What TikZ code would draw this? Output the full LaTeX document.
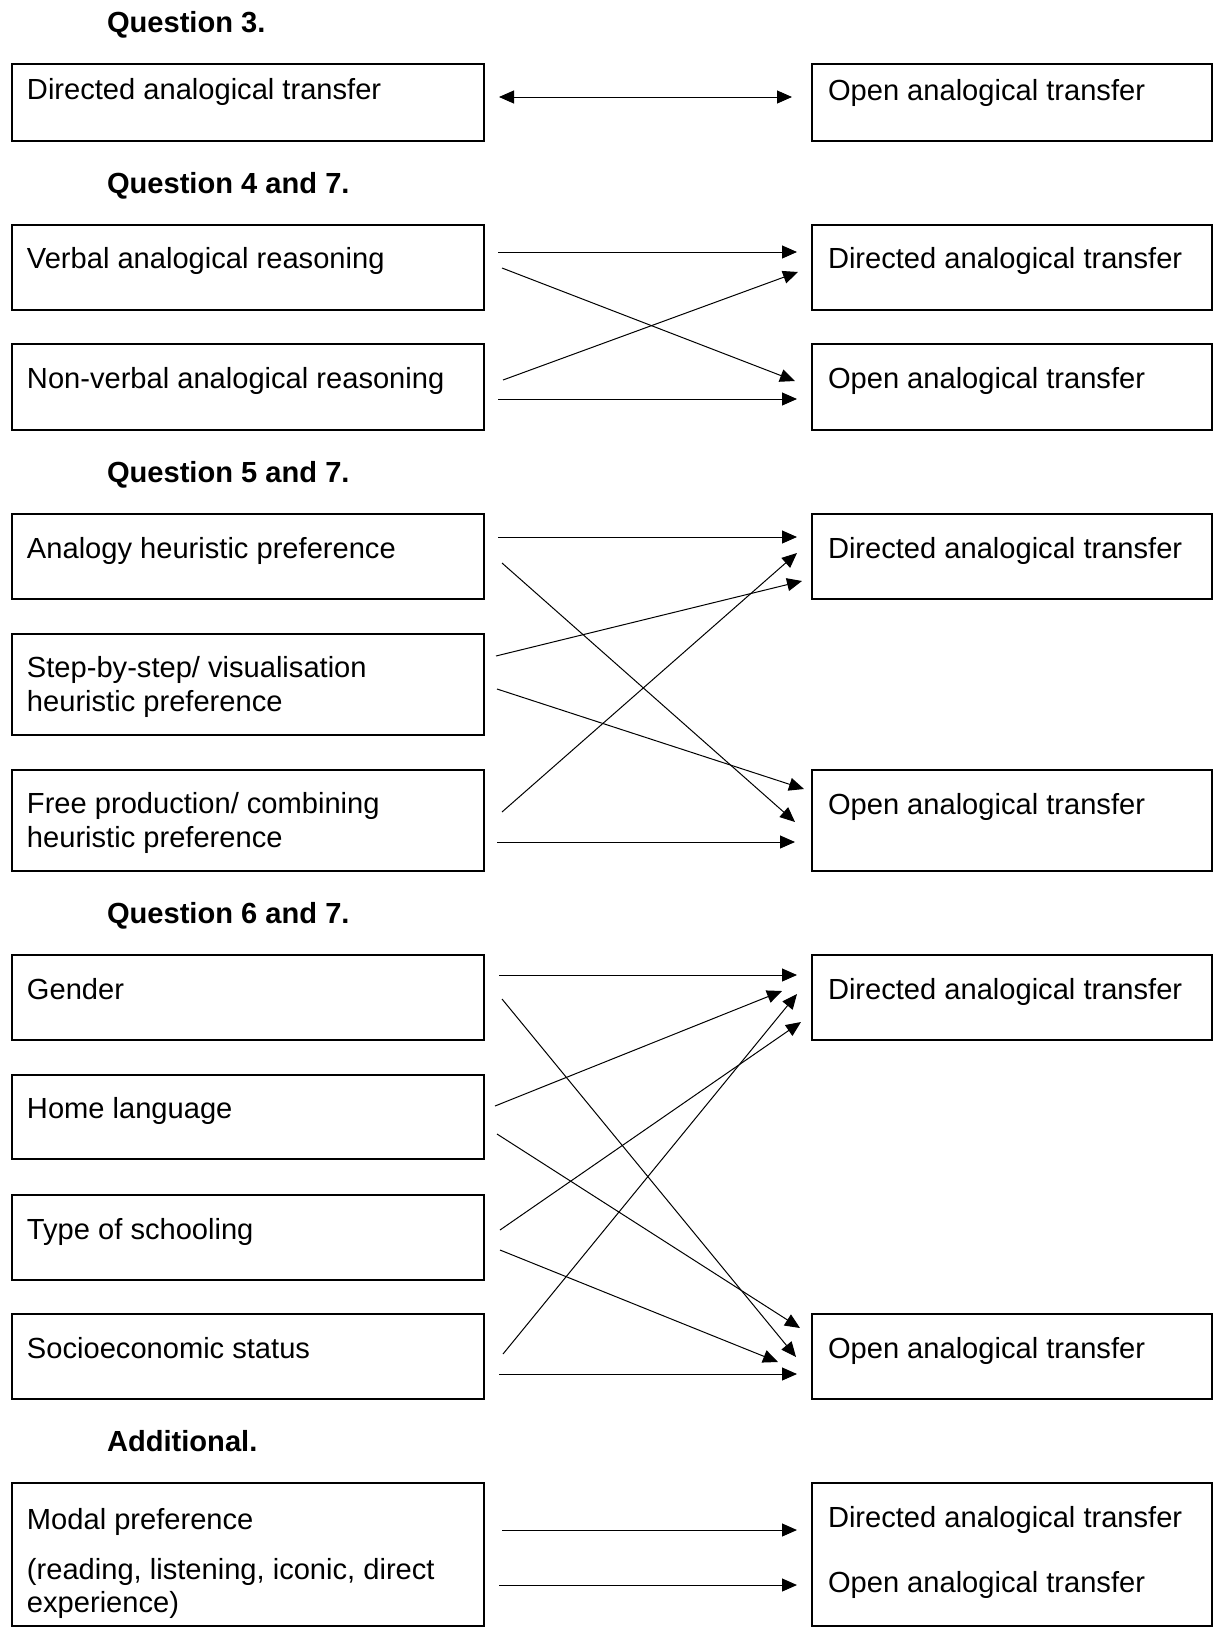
\documentclass[tikz,border=0pt]{standalone}
\usepackage{fontspec}
\setmainfont{Liberation Sans}
\usetikzlibrary{arrows.meta}
\begin{document}
\begin{tikzpicture}[x=1pt,y=-1pt,
  box/.style={draw, line width=2pt, inner sep=0pt, outer sep=0pt, anchor=north west},
  lbox/.style={box, minimum width=472pt},
  rbox/.style={box, minimum width=400pt},
  txt/.style={inner sep=0pt, outer sep=0pt, anchor=base west, font=\fontsize{29.1}{33.4}\selectfont},
  head/.style={txt, font=\fontsize{29.1}{33.4}\selectfont\bfseries},
  arr/.style={line width=1pt, -{Triangle[length=15pt,width=13pt]}},
  darr/.style={line width=1pt, {Triangle[length=15pt,width=13pt]}-{Triangle[length=15pt,width=13pt]}},
]
\fill[white] (0,0) rectangle (1214,1628);
\useasboundingbox (0,0) rectangle (1214,1628);

% headings
\node[head] (h3) at (107,32) {Question 3.};
\node[head] (h4) at (107,193) {Question 4 and 7.};
\node[head] (h5) at (107,482) {Question 5 and 7.};
\node[head] (h6) at (107,923) {Question 6 and 7.};
\node[head] (h8) at (107,1451) {Additional.};

% left boxes
\node[lbox, minimum height=77pt] (L1) at (12,64) {};
\node[lbox, minimum height=85pt] (L2) at (12,225) {};
\node[lbox, minimum height=86pt] (L3) at (12,344) {};
\node[lbox, minimum height=85pt] (L4) at (12,514) {};
\node[lbox, minimum height=101pt] (L5) at (12,634) {};
\node[lbox, minimum height=101pt] (L6) at (12,770) {};
\node[lbox, minimum height=85pt] (L7) at (12,955) {};
\node[lbox, minimum height=84pt] (L8) at (12,1075) {};
\node[lbox, minimum height=85pt] (L9) at (12,1195) {};
\node[lbox, minimum height=85pt] (L10) at (12,1314) {};
\node[lbox, minimum height=143pt] (L11) at (12,1483) {};

% right boxes
\node[rbox, minimum height=77pt] (R1) at (812,64) {};
\node[rbox, minimum height=85pt] (R2) at (812,225) {};
\node[rbox, minimum height=86pt] (R3) at (812,344) {};
\node[rbox, minimum height=85pt] (R4) at (812,514) {};
\node[rbox, minimum height=101pt] (R5) at (812,770) {};
\node[rbox, minimum height=85pt] (R6) at (812,955) {};
\node[rbox, minimum height=85pt] (R7) at (812,1314) {};
\node[rbox, minimum height=143pt] (R8) at (812,1483) {};

% left texts
\node[txt] (tL1) at (27,99) {Directed analogical transfer};
\node[txt] (tL2) at (27,268) {Verbal analogical reasoning};
\node[txt] (tL3) at (27,388) {Non-verbal analogical reasoning};
\node[txt] (tL4) at (27,558) {Analogy heuristic preference};
\node[txt] (tL5a) at (27,677) {Step-by-step/ visualisation};
\node[txt] (tL5b) at (27,711) {heuristic preference};
\node[txt] (tL6a) at (27,813) {Free production/ combining};
\node[txt] (tL6b) at (27,847) {heuristic preference};
\node[txt] (tL7) at (27,999) {Gender};
\node[txt] (tL8) at (27,1118) {Home language};
\node[txt] (tL9) at (27,1239) {Type of schooling};
\node[txt] (tL10) at (27,1358) {Socioeconomic status};
\node[txt] (tL11a) at (27,1529) {Modal preference};
\node[txt] (tL11b) at (27,1579) {(reading, listening, iconic, direct};
\node[txt] (tL11c) at (27,1612) {experience)};

% right texts
\node[txt] (tR1) at (828,100) {Open analogical transfer};
\node[txt] (tR2) at (828,268) {Directed analogical transfer};
\node[txt] (tR3) at (828,388) {Open analogical transfer};
\node[txt] (tR4) at (828,558) {Directed analogical transfer};
\node[txt] (tR5) at (828,814) {Open analogical transfer};
\node[txt] (tR6) at (828,999) {Directed analogical transfer};
\node[txt] (tR7) at (828,1358) {Open analogical transfer};
\node[txt] (tR8a) at (828,1527) {Directed analogical transfer};
\node[txt] (tR8b) at (828,1592) {Open analogical transfer};

% connector end points
\coordinate (a1s) at (499,97);   \coordinate (a1e) at (792,97);
\coordinate (a2s) at (498,252);  \coordinate (a2e) at (797,252);
\coordinate (a3s) at (502,268);  \coordinate (a3e) at (795,381);
\coordinate (a4s) at (503,380);  \coordinate (a4e) at (798,272);
\coordinate (a5s) at (498,399);  \coordinate (a5e) at (797,399);
\coordinate (b1s) at (498,537);  \coordinate (b1e) at (797,537);
\coordinate (b2s) at (502,563);  \coordinate (b2e) at (795,822);
\coordinate (b3s) at (496,656);  \coordinate (b3e) at (802,581);
\coordinate (b4s) at (497,689);  \coordinate (b4e) at (804,789);
\coordinate (b5s) at (502,812);  \coordinate (b5e) at (797,553);
\coordinate (b6s) at (497,842);  \coordinate (b6e) at (795,842);
\coordinate (c1s) at (499,975);  \coordinate (c1e) at (797,975);
\coordinate (c2s) at (502,999);  \coordinate (c2e) at (796,1357);
\coordinate (c3s) at (495,1106); \coordinate (c3e) at (782,991);
\coordinate (c4s) at (497,1134); \coordinate (c4e) at (800,1328);
\coordinate (c5s) at (500,1230); \coordinate (c5e) at (801,1022);
\coordinate (c6s) at (500,1250); \coordinate (c6e) at (778,1362);
\coordinate (c7s) at (503,1354); \coordinate (c7e) at (797,994);
\coordinate (c8s) at (499,1374); \coordinate (c8e) at (797,1374);
\coordinate (d1s) at (502,1530); \coordinate (d1e) at (797,1530);
\coordinate (d2s) at (499,1585); \coordinate (d2e) at (797,1585);

% connectors
\draw[darr] (a1s) -- (a1e);
\foreach \p in {a2,a3,a4,a5,b1,b2,b3,b4,b5,b6,c1,c2,c3,c4,c5,c6,c7,c8,d1,d2}
  \draw[arr] (\p s) -- (\p e);
\end{tikzpicture}
\end{document}
